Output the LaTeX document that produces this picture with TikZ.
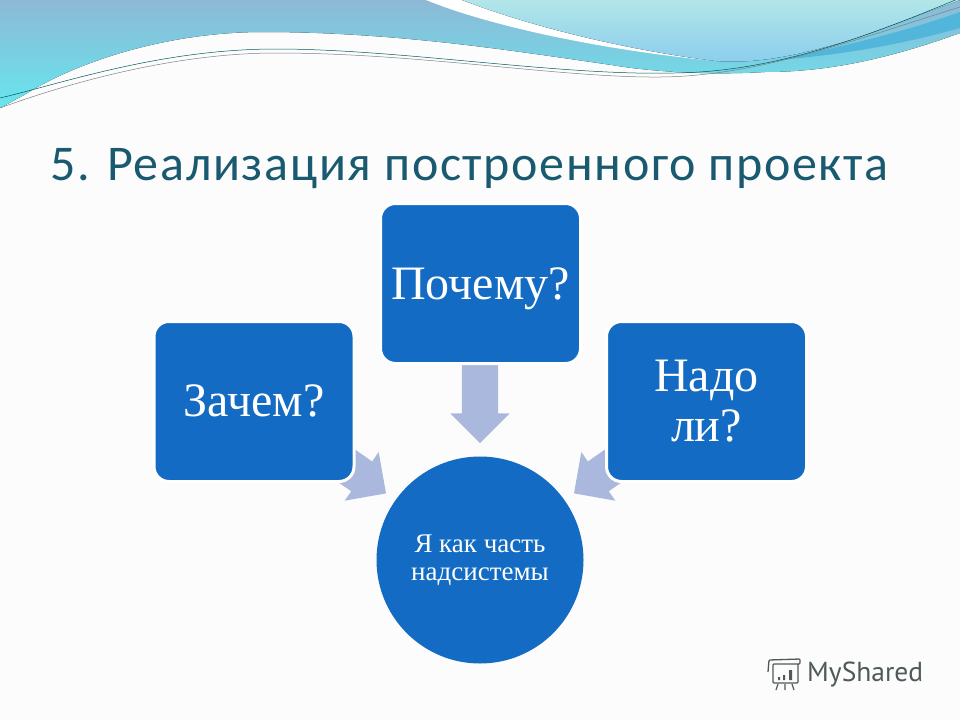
\documentclass[tikz,border=0pt]{standalone}
\usepackage{fontspec}
\setmainfont{Liberation Serif}
\newfontfamily\titlefont[LetterSpace=3.3]{Carlito}
\newfontfamily\logofont{PT Sans}
\usepackage{xcolor}
\usetikzlibrary{shapes.arrows}

\definecolor{boxblue}{HTML}{136BC3}
\definecolor{arrowblue}{HTML}{A9B8DC}
\definecolor{titleteal}{HTML}{1A5A70}
\definecolor{logogray}{HTML}{50595A}
\definecolor{wavetop}{HTML}{8DB9D6}
\definecolor{wavelow}{HTML}{66E6EE}
\definecolor{paletop}{HTML}{B2E6E8}
\definecolor{palelow}{HTML}{8ACDEE}
\definecolor{stripblue}{HTML}{52B6DA}

\tikzset{
questionbox/.style={draw=white, line width=3pt, fill=boxblue, rounded corners=15pt, minimum width=200pt, minimum height=160pt, outer sep=0pt, text=white, align=center, font=\fontsize{48}{50}\selectfont},
blockarrow/.style={single arrow, fill=arrowblue, text height=36pt, text depth=0pt, text width=0pt, minimum height=78pt, single arrow head extend=11.5pt, inner sep=0pt, outer sep=0pt},
wireline/.style={line width=0.5pt}
}

\begin{document}
\begin{tikzpicture}[x=1pt, y=-1pt]
\useasboundingbox (0,0) rectangle (960,720);
\fill[white!99!black] (0,0) rectangle (960,720);

% Wave background
\fill[top color=wavetop, bottom color=wavelow]
(0,0) -- (960,0) -- (960,33) .. controls (880,62) and (820,72) .. (765,72)
.. controls (700,76) and (640,70) .. (612,65)
.. controls (520,52) and (400,32) .. (263,32)
.. controls (170,32) and (80,60) .. (24,95) -- (0,108) -- cycle;
\fill[white] (426,0) .. controls (500,30) and (620,52) .. (716,61) -- (800,40) -- (800,0) -- cycle;
\fill[top color=paletop, bottom color=palelow]
(462,0) .. controls (540,30) and (640,52) .. (716,61)
.. controls (760,64) and (800,55) .. (857,38) -- (960,0) -- cycle;
\fill[stripblue] (778,60) .. controls (850,45) and (910,30) .. (960,12) -- (960,28) .. controls (900,45) and (840,55) .. (778,60) -- cycle;

% Thin lines
\draw[wireline, teal!70!black] (0,98) .. controls (60,84) and (160,49) .. (276,49)
.. controls (400,49) and (560,76) .. (674,73)
.. controls (770,72) and (860,40) .. (960,-2);
\draw[wireline, gray] (0,108) .. controls (60,86) and (170,53) .. (276,53)
.. controls (420,53) and (560,78) .. (661,77)
.. controls (760,76) and (860,38) .. (960,7);

% Title
\node[anchor=base west, inner sep=0pt, text=titleteal, font=\titlefont\fontsize{50}{52}\selectfont] (title) at (50,180) {5. Реализация построенного проекта};

% Arrows go under the boxes
\node[blockarrow, rotate=-90] (arrowtop) at (480,395) {};
\node[blockarrow, rotate=-35] (arrowleft) at (346.6,465.8) {};
\node[blockarrow, rotate=-145] (arrowright) at (613.4,465.8) {};

\node[questionbox, text height=31pt, text depth=0pt] (why) at (480.5,283.5) {Почему?};
\node[questionbox, text height=29pt, text depth=0pt] (what) at (254,401.5) {Зачем?};
\node[questionbox] (need) at (706.5,401.5) {Надо\\ли?};
\node[circle, fill=boxblue, minimum size=207pt, inner sep=0pt, text=white, align=center, font=\fontsize{27}{28}\selectfont] (self) at (480,560) {Я как часть\\надсистемы};

% Logo
\node[anchor=west, inner sep=0pt, text=logogray, font=\logofont\fontsize{27.5}{30}\selectfont] (logo) at (807,675) {MyShared};
\draw[logogray, line width=1.3pt, rounded corners=1pt] (768,672) -- (769,660) -- (800,659) -- (800,664) -- (773,664) -- (773,683) -- (798,683) -- (798,664);
\draw[logogray, line width=1.2pt] (778,684) -- (776,690) (785,684) -- (785,690) (792,684) -- (794,690);
\fill[logogray] (778,677) rectangle (780,680) (783,675) rectangle (785,680) (789,670) rectangle (792,680);
\end{tikzpicture}
\end{document}
